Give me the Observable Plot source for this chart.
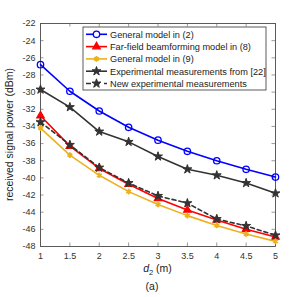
<!DOCTYPE html>
<html><head><meta charset="utf-8">
<script src="https://cdn.jsdelivr.net/npm/d3@7"></script>
<script src="https://cdn.jsdelivr.net/npm/@observablehq/plot@0.6"></script>
<style>
body{margin:0;background:#fff;font-family:"Liberation Sans",Arial,sans-serif;}
#chart svg{display:block;}
#cap{width:304px;text-align:center;font-size:10.5px;margin-top:0;color:#222;line-height:12px;}
</style></head><body>
<div id="chart"></div>
<div id="cap">(a)</div>
<script>
const d2 = [1, 1.5, 2, 2.5, 3, 3.5, 4, 4.5, 5];
const generalModel2 = [-26.8, -29.9, -32.2, -34.1, -35.6, -36.9, -38.0, -39.0, -39.9];
const farField8 = [-32.75, -36.3, -38.9, -40.75, -42.4, -43.75, -44.9, -46.0, -46.9];
const generalModel9 = [-34.2, -37.35, -39.7, -41.6, -43.1, -44.4, -45.55, -46.55, -47.4];
const experimental22 = [-29.7, -31.75, -34.6, -35.8, -37.5, -39.0, -39.7, -40.6, -41.8];
const newExperimental = [-33.5, -36.15, -38.8, -40.6, -42.1, -42.95, -44.8, -45.6, -46.7];
const xTicks = [1, 1.5, 2, 2.5, 3, 3.5, 4, 4.5, 5];
const yTicks = [-48, -46, -44, -42, -40, -38, -36, -34, -32, -30, -28, -26, -24, -22];

const series = [
  {name: "General model in (2)", values: generalModel2, color: "#0000ff", symbol: "circle", fill: "none", dash: null, r: 3.2, sw: 1.3},
  {name: "Far-field beamforming model in (8)", values: farField8, color: "#ff0000", symbol: "triangle", fill: "#ff0000", dash: null, r: 2.8, sw: 1.2},
  {name: "General model in (9)", values: generalModel9, color: "#edb120", symbol: "asterisk", fill: "#edb120", dash: null, r: 2.6, sw: 1.8},
  {name: "Experimental measurements from [22]", values: experimental22, color: "#333333", symbol: "star", fill: "#333333", dash: null, r: 2.8, sw: 1},
  {name: "New experimental measurements", values: newExperimental, color: "#333333", symbol: "star", fill: "#333333", dash: "4,3", r: 2.8, sw: 1}
];

const W = 304, H = 280, mL = 40, mR = 29, mT = 23, mB = 34;
const innerH = H - mT - mB, innerW = W - mL - mR;

const marks = [
  Plot.frame({stroke: "#333", strokeWidth: 0.8}),
  Plot.tickX(xTicks, {x: d => d, insetTop: innerH - 3.5, stroke: "#555", strokeWidth: 0.6}),
  Plot.tickX(xTicks, {x: d => d, insetBottom: innerH - 3.5, stroke: "#555", strokeWidth: 0.6}),
  Plot.tickY(yTicks, {y: d => d, insetRight: innerW - 3.5, stroke: "#555", strokeWidth: 0.6}),
  Plot.tickY(yTicks, {y: d => d, insetLeft: innerW - 3.5, stroke: "#555", strokeWidth: 0.6}),
];
for (const s of series) {
  const data = d2.map((x, i) => ({x, y: s.values[i]}));
  marks.push(Plot.line(data, {x: "x", y: "y", stroke: s.color, strokeWidth: 1.6, strokeDasharray: s.dash}));
  marks.push(Plot.dot(data, {x: "x", y: "y", symbol: s.symbol, r: s.r,
    stroke: s.color, fill: s.symbol === "circle" ? "none" : s.fill, strokeWidth: s.sw}));
}

const plot = Plot.plot({
  width: W, height: H,
  marginLeft: mL, marginRight: mR, marginTop: mT, marginBottom: mB,
  style: {fontFamily: "Liberation Sans, Arial, sans-serif", fontSize: "9px", color: "#333", background: "#fff"},
  x: {domain: [1, 5], ticks: xTicks, tickSize: 0, tickPadding: 6, label: null, tickFormat: d => String(d)},
  y: {domain: [-48, -22], ticks: yTicks, tickSize: 0, tickPadding: 5, label: null, tickFormat: d => String(d)},
  marks
});
document.getElementById("chart").appendChild(plot);

const svg = d3.select(plot);
// axis labels
const xl = svg.append("text").attr("x", mL + innerW / 2).attr("y", 272).attr("text-anchor", "middle")
  .attr("font-size", 10.5).attr("fill", "#222");
xl.append("tspan").attr("font-style", "italic").text("d");
xl.append("tspan").attr("font-size", 7.5).attr("dy", 3).text("2");
xl.append("tspan").attr("dy", -3).text(" (m)");
svg.append("text").attr("transform", `translate(13,${mT + innerH / 2}) rotate(-90)`).attr("text-anchor", "middle")
  .attr("font-size", 10.5).attr("fill", "#222").text("received signal power (dBm)");

// legend
const lg = svg.append("g").attr("transform", "translate(83,27)");
lg.append("rect").attr("width", 183).attr("height", 63).attr("fill", "#fff").attr("stroke", "#333").attr("stroke-width", 0.8);
const symMap = {circle: d3.symbolCircle, triangle: d3.symbolTriangle, asterisk: d3.symbolAsterisk, star: d3.symbolStar};
series.forEach((s, i) => {
  const y = 7.3 + i * 12.3;
  lg.append("line").attr("x1", 3).attr("x2", 24).attr("y1", y).attr("y2", y).attr("stroke", s.color)
    .attr("stroke-width", 1.6).attr("stroke-dasharray", s.dash ? "5,4" : null);
  lg.append("path").attr("d", d3.symbol(symMap[s.symbol], Math.PI * s.r * s.r)()).attr("transform", `translate(13.5,${y})`)
    .attr("stroke", s.color).attr("fill", s.symbol === "circle" ? "#fff" : s.fill).attr("stroke-width", s.sw);
  lg.append("text").attr("x", 27).attr("y", y + 3.3).attr("text-anchor", "start")
    .attr("font-size", 9.2).attr("fill", "#222").text(s.name);
});
</script>
</body></html>
